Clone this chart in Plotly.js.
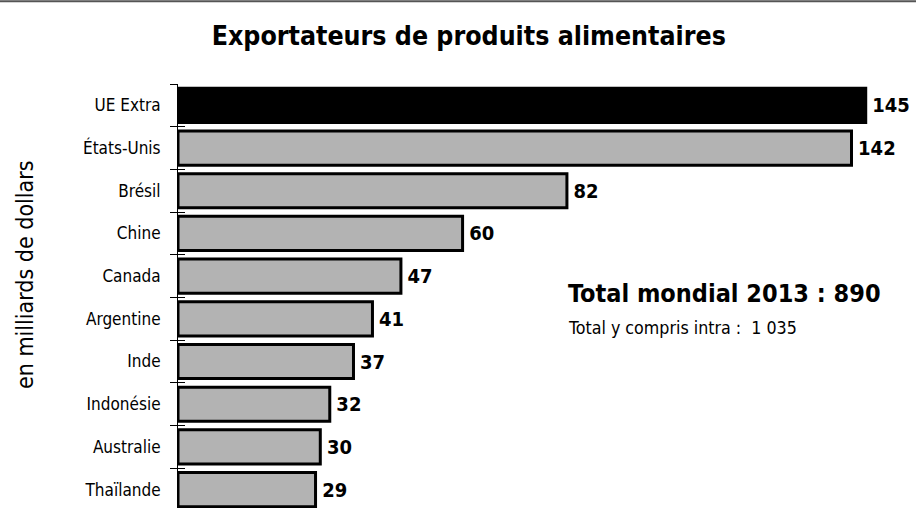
<!DOCTYPE html>
<html>
<head>
<meta charset="utf-8">
<script src="https://cdn.plot.ly/plotly-3.0.1.min.js"></script>
<style>html,body{margin:0;padding:0;background:#fff;}#chart{width:916px;height:508px;}</style>
</head>
<body>
<div id="chart"></div>
<script>
const categories = ["UE Extra", "États-Unis", "Brésil", "Chine", "Canada", "Argentine", "Inde", "Indonésie", "Australie", "Thaïlande"];
const values = [145, 142, 82, 60, 47, 41, 37, 32, 30, 29];
const barColors = ["#000000", "#b3b3b3", "#b3b3b3", "#b3b3b3", "#b3b3b3", "#b3b3b3", "#b3b3b3", "#b3b3b3", "#b3b3b3", "#b3b3b3"];
const titleText = "Exportateurs de produits alimentaires";
const yTitle = "en milliards de dollars";
const totalText = "Total mondial 2013 : 890";
const subTotalText = "Total y compris intra :  1 035";

const FONT = "DejaVu Sans Condensed, Liberation Sans, sans-serif";

const traces = [
  {
    type: "bar",
    orientation: "h",
    x: values,
    y: categories,
    marker: {color: barColors, line: {color: "#000", width: 3}},
    text: values.map(v => "\u2009" + v),
    textposition: "outside",
    constraintext: "none",
    cliponaxis: false,
    textfont: {family: FONT, size: 20, color: "#000", weight: "bold"},
    hoverinfo: "skip",
    xaxis: "x", yaxis: "y"
  },
  {
    type: "scatter",
    mode: "none",
    x: values,
    y: categories,
    hoverinfo: "skip",
    showlegend: false,
    xaxis: "x", yaxis: "y2"
  }
];

const layout = {
  width: 916, height: 508,
  margin: {l: 178, r: 0, t: 84, b: 0},
  paper_bgcolor: "#fff", plot_bgcolor: "rgba(0,0,0,0)",
  showlegend: false,
  bargap: 0.2,
  font: {family: FONT, color: "#000"},
  title: {
    text: titleText,
    font: {family: FONT, size: 26.5, color: "#000", weight: "bold"},
    xref: "paper", x: 0.394, xanchor: "center",
    yref: "container", y: 0.929, yanchor: "middle"
  },
  xaxis: {range: [0, 155.6], visible: false, fixedrange: true},
  yaxis: {
    type: "category", categoryorder: "array", categoryarray: categories,
    range: [9.43, -0.5],
    showline: true, linecolor: "#000", linewidth: 1,
    ticks: "outside", ticklen: 7, tickcolor: "#000", tickwidth: 1,
    tickson: "boundaries", showgrid: false, zeroline: false,
    tickfont: {family: FONT, size: 17, color: "#000"},
    ticklabelstandoff: 13
  },
  yaxis2: {
    type: "category", categoryorder: "array", categoryarray: categories,
    overlaying: "y", matches: "y", side: "left",
    range: [9.43, -0.5],
    showline: false, ticks: "inside", ticklen: 7, tickcolor: "#000", tickwidth: 1,
    tickson: "boundaries", showgrid: false, zeroline: false, showticklabels: false
  },
  shapes: [
    {type: "line", xref: "paper", yref: "paper", x0: -0.25, x1: 1, y0: 1.195, y1: 1.195,
     line: {color: "#555", width: 2}}
  ],
  annotations: [
    {text: yTitle, xref: "paper", yref: "paper", x: -0.207, y: 0.55, textangle: -90,
     showarrow: false, font: {family: FONT, size: 23, color: "#000"}, xanchor: "center", yanchor: "middle"},
    {text: "<b>" + totalText + "</b>", xref: "paper", yref: "paper", x: 0.526, y: 0.507, xanchor: "left", yanchor: "middle",
     showarrow: false, font: {family: FONT, size: 25, color: "#000"}},
    {text: subTotalText, xref: "paper", yref: "paper", x: 0.526, y: 0.4245, xanchor: "left", yanchor: "middle",
     showarrow: false, font: {family: FONT, size: 17.7, color: "#000"}}
  ]
};

Plotly.newPlot("chart", traces, layout, {displayModeBar: false, staticPlot: true});
</script>
</body>
</html>
